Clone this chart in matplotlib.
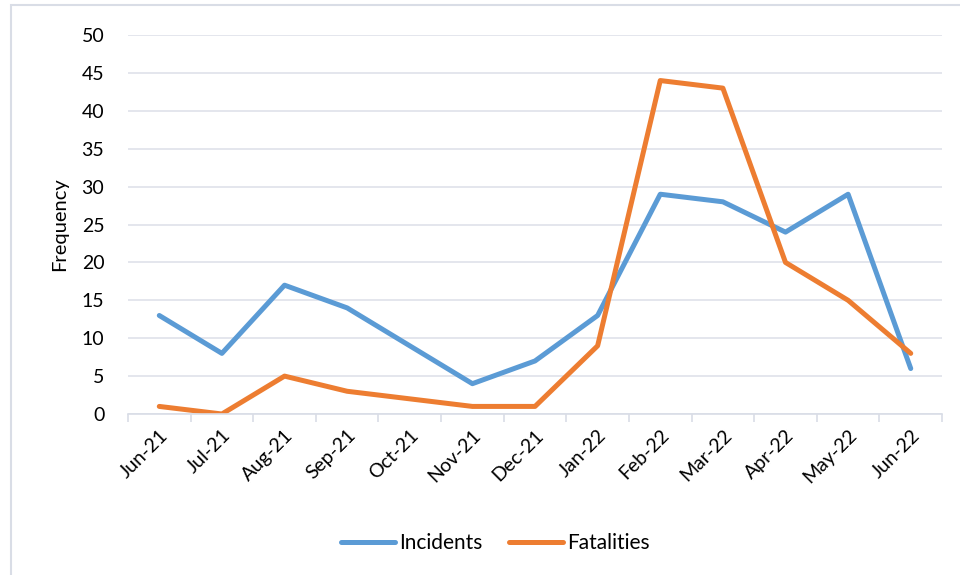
import matplotlib.pyplot as plt
from matplotlib.patches import Rectangle
from matplotlib.ticker import FixedLocator
import numpy as np

plt.rcParams['font.family'] = ['Lato', 'DejaVu Sans']

months = ['Jun-21', 'Jul-21', 'Aug-21', 'Sep-21', 'Oct-21', 'Nov-21', 'Dec-21',
          'Jan-22', 'Feb-22', 'Mar-22', 'Apr-22', 'May-22', 'Jun-22']
incidents = [13, 8, 17, 14, 9, 4, 7, 13, 29, 28, 24, 29, 6]
fatalities = [1, 0, 5, 3, 2, 1, 1, 9, 44, 43, 20, 15, 8]

fig = plt.figure(figsize=(9.6, 5.75), dpi=100)
ax = fig.add_axes([0.1333, 0.28, 0.848, 0.659])

# outer chart frame
fig.patches.append(Rectangle((11 / 960, -0.1), 2, 1 - 5 / 575 + 0.1,
                             transform=fig.transFigure, fill=False,
                             edgecolor='#d9dde6', linewidth=1.5))

x = np.arange(len(months))
ax.plot(x, incidents, color='#5B9BD5', linewidth=3.6, label='Incidents',
        solid_capstyle='round', solid_joinstyle='round')
ax.plot(x, fatalities, color='#ED7D31', linewidth=3.6, label='Fatalities',
        solid_capstyle='round', solid_joinstyle='round')

ax.set_xlim(-0.5, len(months) - 0.5)
ax.set_ylim(0, 50)
ax.set_yticks(range(0, 51, 5))
ax.yaxis.grid(True, color='#dfe2ea', linewidth=1.2)
ax.set_axisbelow(True)

ax.set_xticks(x)
ax.set_xticklabels(months, rotation=45, ha='right', rotation_mode='anchor')
ax.xaxis.set_minor_locator(FixedLocator(np.arange(-0.5, len(months), 1)))
ax.tick_params(axis='x', which='major', length=0, pad=9, labelsize=14)
ax.tick_params(axis='x', which='minor', length=6, color='#d9dde6', width=1.2)
ax.tick_params(axis='y', length=0, pad=17, labelsize=14)

for side in ['top', 'right', 'left']:
    ax.spines[side].set_visible(False)
ax.spines['bottom'].set_color('#d9dde6')
ax.spines['bottom'].set_linewidth(1.2)

ax.set_ylabel('Frequency', fontsize=14.5, labelpad=10)

fig.legend(loc='center', bbox_to_anchor=(0.516, 0.056), ncol=2, frameon=False,
           fontsize=15, handlelength=2.6, handletextpad=0.2, columnspacing=1.25)

fig.savefig('out.png', dpi=100)
